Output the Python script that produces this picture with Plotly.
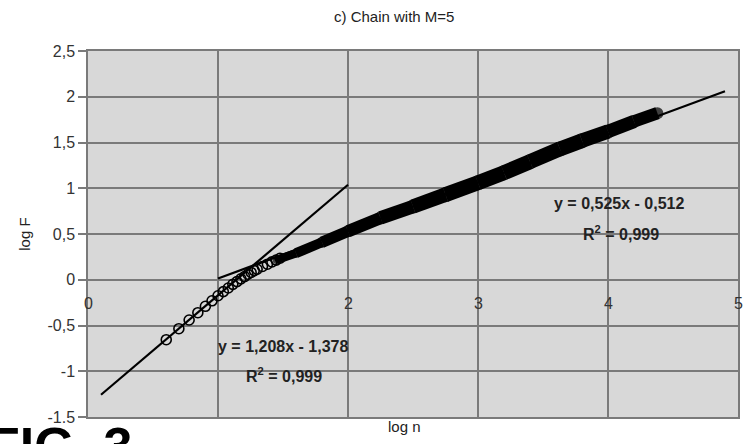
import plotly.graph_objects as go

# ---- data ----
# individual measured points (open circles), small n
pts_logn = [0.602, 0.699, 0.778, 0.845, 0.903, 0.954, 1.000, 1.041, 1.079, 1.114,
            1.146, 1.176, 1.204, 1.230, 1.255, 1.279, 1.301, 1.342, 1.380, 1.415,
            1.447, 1.477]
pts_logF = [-0.655, -0.535, -0.440, -0.360, -0.290, -0.230, -0.175, -0.130, -0.090, -0.050,
            -0.020, 0.010, 0.035, 0.060, 0.080, 0.100, 0.115, 0.145, 0.170, 0.195,
            0.215, 0.235]
# dense part of the data (overlapping circles forming a band), centre line
band_logn = [1.45, 1.60, 1.80, 2.00, 2.25, 2.50, 2.75, 3.00, 3.20, 3.40, 3.63, 3.80, 4.00, 4.20, 4.38]
band_logF = [0.215, 0.29, 0.41, 0.53, 0.675, 0.80, 0.93, 1.06, 1.17, 1.29, 1.43, 1.52, 1.62, 1.73, 1.82]
band_px = [8, 9, 11, 12, 13, 14, 15, 15, 15, 15, 15, 15, 14, 13, 12]  # style: band thickness

# trend lines
fit1_x = [0.1, 2.0]
fit1_y = [-1.257, 1.038]
fit2_x = [1.0, 4.9]
fit2_y = [0.013, 2.060]
fit1_label = ["y = 1,208x - 1,378", "R<sup>2</sup> = 0,999"]
fit2_label = ["y = 0,525x - 0,512", "R<sup>2</sup> = 0,999"]

# axes
y_tickvals = [-1.5, -1.0, -0.5, 0, 0.5, 1.0, 1.5, 2.0, 2.5]
y_ticktext = ["-1.5", "-1", "-0,5", "0", "0,5", "1", "1,5", "2", "2,5"]
x_tickvals = [0, 1, 2, 3, 4, 5]
x_ticklabels = ["0", "2", "3", "4", "5"]
x_ticklabel_pos = [0, 2, 3, 4, 5]

title_text = "c) Chain with M=5"
x_title = "log n"
y_title = "log F"
fig_label = "FIG. 3"

FONT = "Liberation Sans, Arial, sans-serif"
GRID = "#7a7a7a"

fig = go.Figure()

# dense band: segments of varying thickness, with round joints
for i in range(len(band_logn) - 1):
    fig.add_trace(go.Scatter(
        x=band_logn[i:i + 2], y=band_logF[i:i + 2], mode="lines",
        line=dict(color="black", width=(band_px[i] + band_px[i + 1]) / 2),
        showlegend=False, hoverinfo="skip"))
fig.add_trace(go.Scatter(
    x=band_logn, y=band_logF, mode="markers",
    marker=dict(symbol="circle", size=band_px, color="black", line=dict(width=0)),
    showlegend=False, hoverinfo="skip"))

fig.add_trace(go.Scatter(
    x=pts_logn, y=pts_logF, mode="markers",
    marker=dict(symbol="circle-open", size=10, color="black", line=dict(width=1.6, color="black")),
    showlegend=False))

fig.add_trace(go.Scatter(x=fit1_x, y=fit1_y, mode="lines",
                         line=dict(color="black", width=2.2), showlegend=False))
fig.add_trace(go.Scatter(x=fit2_x, y=fit2_y, mode="lines",
                         line=dict(color="black", width=2.2), showlegend=False))

annotations = []
for xv, lab in zip(x_ticklabel_pos, x_ticklabels):
    annotations.append(dict(x=xv, y=0, xref="x", yref="y", text=lab, showarrow=False,
                            yanchor="middle", yshift=-24,
                            font=dict(family=FONT, size=16, color="#333333")))

annotations += [
    dict(x=1.5, y=-0.73, xref="x", yref="y", text="<b>" + fit1_label[0] + "</b>", showarrow=False,
         font=dict(family=FONT, size=16, color="#222222")),
    dict(x=1.51, y=-1.04, xref="x", yref="y", text="<b>" + fit1_label[1] + "</b>", showarrow=False,
         font=dict(family=FONT, size=16, color="#222222")),
    dict(x=4.085, y=0.83, xref="x", yref="y", text="<b>" + fit2_label[0] + "</b>", showarrow=False,
         font=dict(family=FONT, size=16, color="#222222")),
    dict(x=4.1, y=0.51, xref="x", yref="y", text="<b>" + fit2_label[1] + "</b>", showarrow=False,
         font=dict(family=FONT, size=16, color="#222222")),
    dict(x=0.47, y=1.0, xref="paper", yref="paper", yanchor="middle", yshift=35,
         text=title_text, showarrow=False,
         font=dict(family=FONT, size=15, color="#222222")),
    dict(x=0.487, y=0, xref="paper", yref="paper", yanchor="middle", yshift=-9,
         text=x_title, showarrow=False,
         font=dict(family=FONT, size=15, color="#222222")),
    dict(x=-0.115, y=0.5, xref="paper", yref="paper", text=y_title, showarrow=False, textangle=-90,
         font=dict(family=FONT, size=15, color="#222222")),
    dict(x=-0.157, y=0, xref="paper", yref="paper", xanchor="left", yanchor="top", yshift=2,
         text="<b>" + fig_label + "</b>", showarrow=False,
         font=dict(family=FONT, size=52, color="black")),
]

fig.update_layout(
    width=743, height=444,
    margin=dict(l=88, r=5, t=51, b=27, autoexpand=False),
    paper_bgcolor="white", plot_bgcolor="#d8d8d8",
    font=dict(family=FONT, color="#222222"),
    annotations=annotations,
    showlegend=False,
)
fig.update_xaxes(range=[0, 5], tickvals=x_tickvals, showticklabels=False, automargin=False,
                 showgrid=True, gridcolor=GRID, gridwidth=1.5, zeroline=False,
                 showline=True, linecolor=GRID, linewidth=1.5, mirror=True, ticks="")
fig.update_yaxes(range=[-1.5, 2.5], tickvals=y_tickvals, ticktext=y_ticktext, automargin=False,
                 showgrid=True, gridcolor=GRID, gridwidth=1.8, zeroline=False,
                 showline=True, linecolor=GRID, linewidth=1.5, mirror=True,
                 ticks="outside", ticklen=8, tickcolor=GRID, tickwidth=1.5,
                 tickfont=dict(family=FONT, size=16, color="#333333"))

fig.write_html("out.html", config={"displayModeBar": False},
               post_script="document.body.style.margin='0';document.body.style.overflow='hidden';")
